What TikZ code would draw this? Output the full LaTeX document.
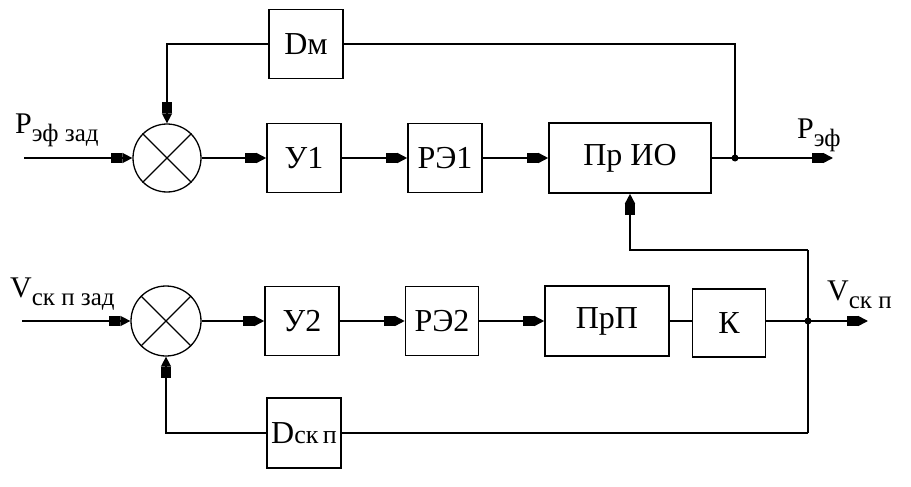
\documentclass[tikz,border=0pt]{standalone}
\usepackage{fontspec}
\setmainfont{Liberation Serif}
\usetikzlibrary{arrows.meta}
\newcommand\sbs[1]{\raisebox{-0.28em}{\fontsize{25}{25}\selectfont #1}}
\begin{document}
\begin{tikzpicture}[x=1pt,y=-1pt,
 blk/.style={draw,line width=1.6pt,minimum height=69pt,inner sep=0pt,font=\fontsize{32}{32}\selectfont},
 sumc/.style={draw,circle,line width=1.3pt,minimum size=68pt,inner sep=0pt},
 ln/.style={line width=1.6pt},
 arr/.style={ln,-{Rectangle[length=11pt,width=10pt,sep=0pt]Triangle[length=10pt,width=10pt]}},
 lbl/.style={font=\fontsize{30}{30}\selectfont,inner sep=0pt,anchor=base west},
 dot/.style={circle,fill,inner sep=0pt,minimum size=7pt}]
\useasboundingbox (0,0) rectangle (911,487);
% top row
\node[sumc] (s1) at (167,158) {};
\draw[line width=1.2pt] (s1.45) -- (s1.225) (s1.135) -- (s1.-45);
\node[blk,minimum width=74pt] (dm) at (306,44) {Dм};
\node[blk,minimum width=74pt] (u1) at (304,158) {У1};
\node[blk,minimum width=74pt] (re1) at (445,158) {РЭ1};
\node[blk,minimum width=162pt,minimum height=70pt] (prio) at (630,158) {Пр ИО};
\node[dot] (j1) at (735,158) {};
\coordinate (in1) at (24,158);
\coordinate (out1) at (833,158);
% bottom row
\node[sumc,minimum size=70pt] (s2) at (166,321) {};
\draw[line width=1.2pt] (s2.45) -- (s2.225) (s2.135) -- (s2.-45);
\node[blk,minimum width=74pt] (u2) at (302,321) {У2};
\node[blk,minimum width=73pt] (re2) at (442,321) {РЭ2};
\node[blk,minimum width=124pt,minimum height=70pt] (prp) at (607,321) {ПрП};
\node[blk,minimum width=73pt,minimum height=68pt] (k) at (729,323) {К};
\node[dot] (j2) at (808,321) {};
\coordinate (in2) at (22,321);
\coordinate (out2) at (868,321);
\coordinate (c1) at (808,250);
\coordinate (c2) at (808,433);
\node[blk,minimum width=74pt,minimum height=70pt] (dsk) at (304,433) {D{\fontsize{26}{26}\selectfont ск\,п}};
% labels
\node[lbl] (l1) at (15,133) {P\sbs{эф зад}};
\node[lbl] (l2) at (797,138) {P\sbs{эф}};
\node[lbl] (l3) at (10,297) {V\sbs{ск п зад}};
\node[lbl] (l4) at (827,300) {V\sbs{ск п}};
% connectors top
\draw[arr] (in1) -- (s1.west);
\draw[arr] (s1.east) -- (u1.west);
\draw[arr] (u1.east) -- (re1.west);
\draw[arr] (re1.east) -- (prio.west);
\draw[ln] (prio.east) -- (j1.center);
\draw[arr] (j1.center) -- (out1);
\draw[ln] (j1.center) |- (dm.east);
\draw[arr] (dm.west) -| (s1.north);
% connectors bottom
\draw[arr] (in2) -- (s2.west);
\draw[arr] (s2.east) -- (u2.west);
\draw[arr] (u2.east) -- (re2.west);
\draw[arr] (re2.east) -- (prp.west);
\draw[ln] (prp.east) -- (prp.east -| k.west);
\draw[ln] (k.east |- j2) -- (j2.center);
\draw[arr] (j2.center) -- (out2);
\draw[arr] (c1) -| (prio.south);
\draw[ln] (c1) -- (j2.center) -- (c2);
\draw[ln] (c2) -- (dsk.east);
\draw[arr] (dsk.west) -| (s2.south);
\end{tikzpicture}
\end{document}
